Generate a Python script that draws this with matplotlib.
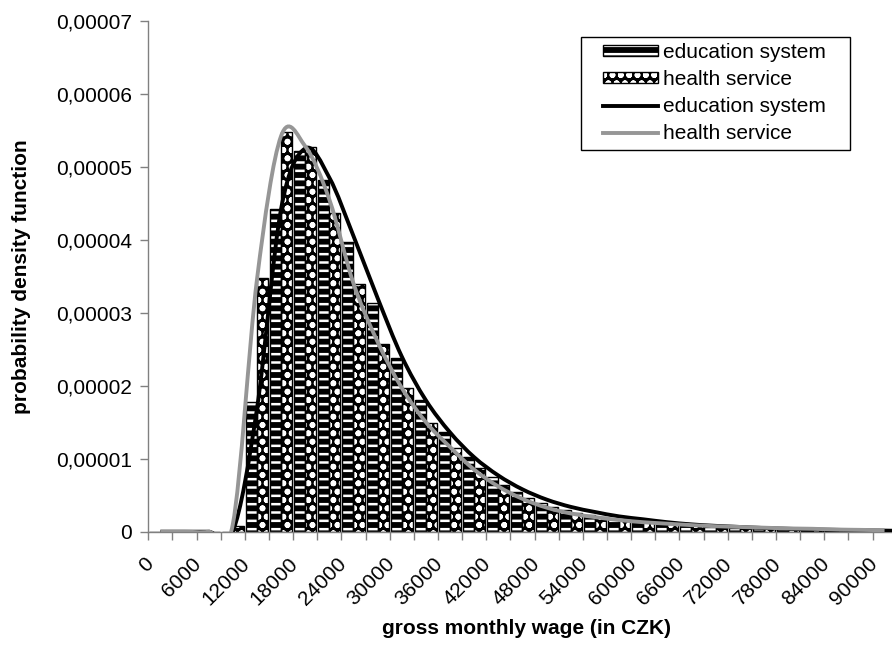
import matplotlib
matplotlib.use('Agg')
import matplotlib.pyplot as plt
import numpy as np
from matplotlib.path import Path
from matplotlib.patches import PathPatch, Patch, Rectangle
from matplotlib.lines import Line2D
from matplotlib.legend_handler import HandlerTuple
from matplotlib.transforms import ScaledTranslation

plt.rcParams['font.family'] = ['Liberation Sans', 'DejaVu Sans']
plt.rcParams['hatch.linewidth'] = 1.8

# wage categories (CZK)
categories = [0, 3000, 6000, 9000, 12000, 15000, 18000, 21000, 24000, 27000,
              30000, 33000, 36000, 39000, 42000, 45000, 48000, 51000, 54000, 57000,
              60000, 63000, 66000, 69000, 72000, 75000, 78000, 81000, 84000, 87000,
              90000, 93000]

# histogram values (x 1e-5)
edu_bars = [0, 0, 0, 0, 1.78, 4.42, 5.22, 4.82, 3.97, 3.13,
            2.38, 1.80, 1.37, 1.03, 0.75, 0.55, 0.39, 0.30, 0.23, 0.18,
            0.14, 0.11, 0.09, 0.07, 0.055, 0.045, 0.035, 0.03, 0.025, 0.02,
            0.015, 0.01]
health_bars = [0, 0, 0, 0.08, 3.47, 5.47, 5.27, 4.37, 3.40, 2.57,
               1.97, 1.49, 1.15, 0.87, 0.64, 0.46, 0.34, 0.26, 0.20, 0.16,
               0.13, 0.11, 0.09, 0.075, 0.06, 0.05, 0.04, 0.035, 0.03, 0.025,
               0.02, 0.0]

# fitted density curves (x 1e-5)
edu_curve = [0, 0, 0, 0, 1.68, 4.42, 5.25, 4.85, 4.05, 3.20,
             2.40, 1.80, 1.36, 1.02, 0.77, 0.58, 0.44, 0.34, 0.27, 0.21,
             0.17, 0.13, 0.10, 0.08, 0.065, 0.05, 0.04, 0.03, 0.025, 0.02,
             0.015, 0.01]
health_curve = [0, 0, 0, 0.10, 3.45, 5.42, 5.28, 4.55, 3.40, 2.60,
                1.97, 1.50, 1.16, 0.85, 0.62, 0.45, 0.33, 0.25, 0.20, 0.16,
                0.13, 0.11, 0.09, 0.075, 0.065, 0.055, 0.045, 0.04, 0.03, 0.025,
                0.02]

scale = 1e-5
ytick_vals = [0, 1e-5, 2e-5, 3e-5, 4e-5, 5e-5, 6e-5, 7e-5]
ytick_labels = ['0', '0,00001', '0,00002', '0,00003', '0,00004', '0,00005', '0,00006', '0,00007']

GREY = '#969696'
FS = 15
EDU_HATCH = '--'
HEALTH_HATCH = 'oo'

fig = plt.figure(figsize=(8.92, 6.49), dpi=100)
W, H = 892, 649
ncat = len(categories)
cw = 24.14
ax = fig.add_axes([148.3 / W, 117.3 / H, ncat * cw / W, 511 / H])

idx = np.arange(ncat)
gap = 0.04
eb = np.array(edu_bars) * scale
hb = np.array(health_bars) * scale

def draw_bars(left, width, heights, hatch):
    ax.bar(left, heights, width=width, align='edge', color='black', linewidth=0, zorder=2)
    ax.bar(left, heights, width=width, align='edge', facecolor='none', edgecolor='white',
           hatch=hatch, linewidth=0, zorder=2.1)
    ax.bar(left, heights, width=width, align='edge', facecolor='none', edgecolor='black',
           linewidth=1.0, zorder=2.2)

draw_bars(idx - 0.5 + gap, 0.5 - gap, eb, EDU_HATCH)
draw_bars(idx, 0.5 - gap, hb, HEALTH_HATCH)

def smooth_path(xs, ys):
    pts = np.column_stack([xs, ys])
    n = len(pts)
    verts = [pts[0]]
    codes = [Path.MOVETO]
    for i in range(n - 1):
        p0 = pts[i - 1] if i > 0 else pts[i]
        p1 = pts[i]
        p2 = pts[i + 1]
        p3 = pts[i + 2] if i + 2 < n else pts[i + 1]
        c1 = p1 + (p2 - p0) / 6.0
        c2 = p2 - (p3 - p1) / 6.0
        verts += [c1, c2, p2]
        codes += [Path.CURVE4] * 3
    return Path(verts, codes)

ec = np.array(edu_curve) * scale
hc = np.array(health_curve) * scale
ax.add_patch(PathPatch(smooth_path(np.arange(len(ec)), ec), facecolor='none',
                       edgecolor='black', linewidth=2.8, zorder=3, capstyle='butt'))
ax.add_patch(PathPatch(smooth_path(np.arange(len(hc)), hc), facecolor='none',
                       edgecolor=GREY, linewidth=2.8, zorder=4, capstyle='butt'))

ax.set_xlim(-0.5, ncat - 0.5)
ax.set_ylim(0, 7e-5)

for s in ['top', 'right']:
    ax.spines[s].set_visible(False)
for s in ['left', 'bottom']:
    ax.spines[s].set_color('#808080')
    ax.spines[s].set_linewidth(1.0)

ax.set_yticks(ytick_vals)
ax.set_yticklabels(ytick_labels)
ax.tick_params(axis='y', direction='out', length=6, width=1, color='#808080',
               labelsize=FS, pad=6)

# category boundary ticks
ax.set_xticks(np.arange(ncat) - 0.5)
ax.set_xticklabels([])
ax.tick_params(axis='x', which='major', direction='out', length=6, width=1, color='#808080')
# labels at every second category
lab_pos = idx[::2]
lab_pos = lab_pos[lab_pos <= 30]
ax.set_xticks(lab_pos, [str(categories[k]) for k in lab_pos], minor=True)
ax.tick_params(axis='x', which='minor', length=0, labelsize=FS, pad=24)
off = ScaledTranslation(-10 / 100, 4 / 100, fig.dpi_scale_trans)
for t in ax.get_xticklabels(minor=True):
    t.set_rotation(45)
    t.set_ha('right')
    t.set_va('center')
    t.set_rotation_mode('anchor')
    t.set_transform(t.get_transform() + off)

fig.text(22 / W, 1 - 277 / H, 'probability density function', rotation=90,
         ha='center', va='center', fontsize=FS, fontweight='bold')
fig.text(527 / W, 1 - 629 / H, 'gross monthly wage (in CZK)', ha='center', va='center',
         fontsize=FS, fontweight='bold')

h1 = (Patch(facecolor='black', edgecolor='black', linewidth=0),
      Patch(facecolor='none', edgecolor='white', hatch=EDU_HATCH, linewidth=0),
      Patch(facecolor='none', edgecolor='black', linewidth=1))
h2 = (Patch(facecolor='black', edgecolor='black', linewidth=0),
      Patch(facecolor='none', edgecolor='white', hatch=HEALTH_HATCH, linewidth=0),
      Patch(facecolor='none', edgecolor='black', linewidth=1))
h3 = Line2D([], [], color='black', linewidth=2.8)
h4 = Line2D([], [], color=GREY, linewidth=2.8)
leg = fig.legend([h1, h2, h3, h4],
                 ['education system', 'health service', 'education system', 'health service'],
                 handler_map={tuple: HandlerTuple(ndivide=1)},
                 loc='upper left', bbox_to_anchor=(603 / W, 1 - 43 / H),
                 fontsize=FS, frameon=False,
                 handlelength=2.64, handleheight=0.4, handletextpad=0.24,
                 labelspacing=0.39, borderpad=0, borderaxespad=0)
fig.add_artist(Rectangle((581 / W, 1 - 150 / H), (850 - 581) / W, (150 - 36.7) / H,
                         transform=fig.transFigure, facecolor='none', edgecolor='black',
                         linewidth=1.0, zorder=5))

fig.savefig('out.png', dpi=100)
